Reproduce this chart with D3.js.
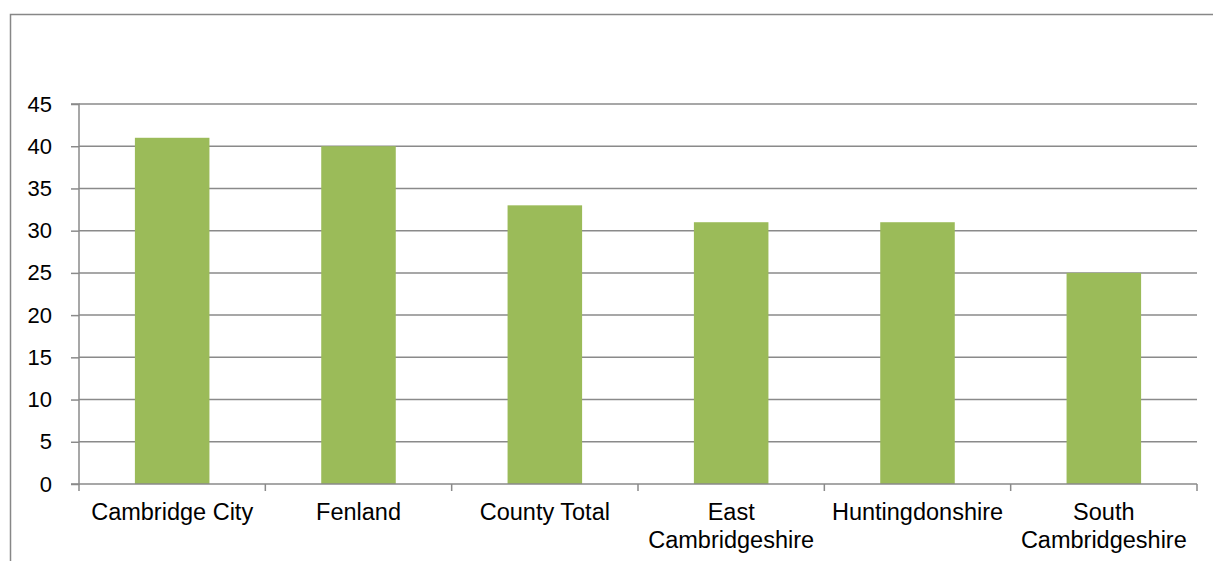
<!DOCTYPE html>
<html>
<head>
<meta charset="utf-8">
<script src="https://cdn.jsdelivr.net/npm/d3@7"></script>
<style>
  html, body { margin: 0; padding: 0; background: #fff; }
  svg { display: block; }
</style>
</head>
<body>
<svg id="chart" width="1213" height="561"></svg>
<script>
// District values
const categories = ["Cambridge City", "Fenland", "County Total", "East Cambridgeshire", "Huntingdonshire", "South Cambridgeshire"];
const labelLines = [["Cambridge City"], ["Fenland"], ["County Total"], ["East", "Cambridgeshire"], ["Huntingdonshire"], ["South", "Cambridgeshire"]];
const values = [41, 40, 33, 31, 31, 25];
const yTicks = [0, 5, 10, 15, 20, 25, 30, 35, 40, 45];

const svg = d3.select("#chart");
const W = 1213, H = 561;
const plot = { left: 79, right: 1197, top: 104, bottom: 484 };

// Outer chart frame
svg.append("rect")
  .attr("x", 10.5).attr("y", 14.5)
  .attr("width", W + 20).attr("height", H + 20)
  .attr("fill", "none").attr("stroke", "#878787").attr("stroke-width", 1.5);

const x = d3.scaleBand().domain(categories).range([plot.left, plot.right]).paddingInner(0.6).paddingOuter(0.3);
const xEdge = d3.scaleBand().domain(categories).range([plot.left, plot.right]).padding(0);
const y = d3.scaleLinear().domain([0, 45]).range([plot.bottom, plot.top]);

const gridColor = "#8a8a8a";

// Horizontal gridlines
svg.append("g")
  .selectAll("line")
  .data(yTicks.filter(d => d > 0))
  .join("line")
  .attr("x1", plot.left).attr("x2", plot.right)
  .attr("y1", d => y(d)).attr("y2", d => y(d))
  .attr("stroke", gridColor).attr("stroke-width", 1.5);

// Bars
svg.append("g")
  .selectAll("rect")
  .data(values)
  .join("rect")
  .attr("x", (d, i) => x(categories[i]))
  .attr("width", x.bandwidth())
  .attr("y", d => y(d))
  .attr("height", d => y(0) - y(d))
  .attr("fill", "#9bbb59");

// Y axis
const yAxis = d3.axisLeft(y).tickValues(yTicks).tickSize(8).tickPadding(19);
const gy = svg.append("g").attr("transform", `translate(${plot.left},0)`).call(yAxis);
gy.select(".domain").attr("stroke", gridColor).attr("stroke-width", 1.5).attr("d", `M-8,${plot.top}H0V${plot.bottom}H-8`);
gy.selectAll(".tick line").attr("stroke", gridColor).attr("stroke-width", 1.5);
gy.selectAll(".tick text")
  .attr("fill", "#000")
  .style("font-family", "'Liberation Sans', Arial, sans-serif")
  .style("font-size", "22px");

// X axis line and category boundary ticks
const edges = categories.map(c => xEdge(c)).concat([plot.right]);
svg.append("line")
  .attr("x1", plot.left).attr("x2", plot.right)
  .attr("y1", plot.bottom).attr("y2", plot.bottom)
  .attr("stroke", gridColor).attr("stroke-width", 1.5);
svg.append("g")
  .selectAll("line")
  .data(edges)
  .join("line")
  .attr("x1", d => d).attr("x2", d => d)
  .attr("y1", plot.bottom).attr("y2", plot.bottom + 7)
  .attr("stroke", gridColor).attr("stroke-width", 1.5);

// Category labels
const lab = svg.append("g")
  .selectAll("text")
  .data(categories)
  .join("text")
  .attr("x", c => xEdge(c) + xEdge.bandwidth() / 2)
  .attr("y", 520)
  .attr("text-anchor", "middle")
  .attr("fill", "#000")
  .style("font-family", "'Liberation Sans', Arial, sans-serif")
  .style("font-size", "23.5px");
lab.selectAll("tspan")
  .data((c, i) => labelLines[i].map((t, j) => ({ t, j, x: xEdge(c) + xEdge.bandwidth() / 2 })))
  .join("tspan")
  .attr("x", d => d.x)
  .attr("dy", d => d.j === 0 ? 0 : 28)
  .text(d => d.t);
</script>
</body>
</html>
